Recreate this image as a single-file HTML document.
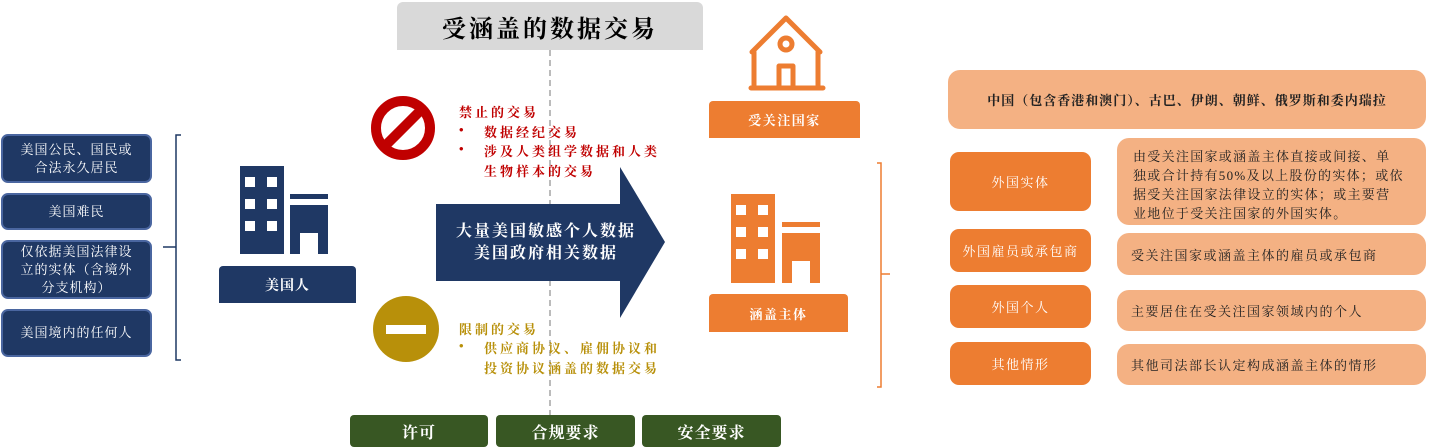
<!DOCTYPE html>
<html><head><meta charset="utf-8"><style>
body{margin:0;width:1430px;height:448px;background:#fff;position:relative;overflow:hidden;font-family:"Liberation Serif","Noto Serif CJK SC",serif}
.a{position:absolute;box-sizing:border-box}
.nv{background:#1f3864;border:2px solid #4a66a0;border-radius:7px;color:#fff;font-size:13px;display:flex;align-items:center;justify-content:center;text-align:center;line-height:18px;letter-spacing:1px}
.c{display:flex;align-items:center;justify-content:center;text-align:center}
.or{background:#ed7d31;color:#fff;font-size:13px;border-radius:9px;letter-spacing:1.5px}
.pe{background:#f4b183;color:#222;font-size:13px;border-radius:12px;letter-spacing:1.5px}
.gr{background:#385723;color:#fff;font-size:16px;font-weight:bold;border-radius:4px;letter-spacing:1px}
.t{position:absolute;font-size:13px;font-weight:bold;letter-spacing:3px;white-space:nowrap}
.r{color:#c00000}.y{color:#b8900a}
</style></head><body>
<div class="a nv" style="left:1px;top:134px;width:151px;height:49px">美国公民、国民或<br>合法永久居民</div>
<div class="a nv" style="left:1px;top:193px;width:151px;height:37px">美国难民</div>
<div class="a nv" style="left:1px;top:240px;width:151px;height:59px">仅依据美国法律设<br>立的实体（含境外<br>分支机构）</div>
<div class="a nv" style="left:1px;top:309px;width:151px;height:48px">美国境内的任何人</div>
<svg class="a" style="left:0;top:0" width="1430" height="448">
<path d="M181 135H176V360H181M176 247H163" fill="none" stroke="#1f3864" stroke-width="1.5"/>
<path d="M877 163H881V387H877M881 274H890" fill="none" stroke="#ed7d31" stroke-width="1.5"/>
<line x1="550" y1="50" x2="550" y2="415" stroke="#bbb" stroke-width="2" stroke-dasharray="6,4"/>
<g fill="#1f3864"><rect x="240" y="166" width="44" height="88"/><rect x="290" y="194" width="38" height="5"/><path d="M290 205H328V254H318V233H300V254H290Z"/></g>
<g fill="#fff"><rect x="245" y="177" width="10" height="10"/><rect x="267" y="177" width="10" height="10"/><rect x="245" y="199" width="10" height="10"/><rect x="267" y="199" width="10" height="10"/><rect x="245" y="221" width="10" height="10"/><rect x="267" y="221" width="10" height="10"/></g>
<g fill="#ed7d31"><rect x="731" y="194" width="44" height="89"/><rect x="782" y="222" width="38" height="5"/><path d="M782 233H820V283H810V261H792V283H782Z"/></g>
<g fill="#fff"><rect x="736" y="205" width="10" height="10"/><rect x="758" y="205" width="10" height="10"/><rect x="736" y="227" width="10" height="10"/><rect x="758" y="227" width="10" height="10"/><rect x="736" y="249" width="10" height="10"/><rect x="758" y="249" width="10" height="10"/></g>
<g fill="none" stroke="#ed7d31" stroke-width="5" stroke-linejoin="round" stroke-linecap="round"><path d="M752 52L786 18L820 52"/><path d="M754 52V88M818 52V88M751 88H823"/><circle cx="786" cy="44" r="6"/><path d="M779 88V66H793V88"/></g>
<circle cx="403" cy="128" r="27" fill="none" stroke="#c00000" stroke-width="10"/>
<line x1="384" y1="147" x2="422" y2="109" stroke="#c00000" stroke-width="10"/>
<circle cx="406" cy="329" r="33" fill="#b8900a"/>
<rect x="386" y="325" width="40" height="9" fill="#fff"/>
<path d="M436 204H620V167L665 242L620 318V281H436Z" fill="#1f3864"/>
</svg>
<div class="a c" style="left:219px;top:266px;width:137px;height:37px;background:#1f3864;color:#fff;font-size:14px;font-weight:bold;border-radius:4px 4px 0 0;letter-spacing:1px">美国人</div>
<div class="a c" style="left:397px;top:2px;width:306px;height:48px;background:#d9d9d9;font-size:24px;font-weight:bold;border-radius:6px 6px 0 0;letter-spacing:3px">受涵盖的数据交易</div>
<div class="t r" style="left:459px;top:102px">禁止的交易</div>
<div class="t r" style="left:459px;top:122px">•</div><div class="t r" style="left:484px;top:122px">数据经纪交易</div>
<div class="t r" style="left:459px;top:141px">•</div><div class="t r" style="left:484px;top:141px">涉及人类组学数据和人类</div>
<div class="t r" style="left:484px;top:161px">生物样本的交易</div>
<div class="t y" style="left:459px;top:319px">限制的交易</div>
<div class="t y" style="left:459px;top:338px">•</div><div class="t y" style="left:484px;top:338px">供应商协议、雇佣协议和</div>
<div class="t y" style="left:484px;top:358px">投资协议涵盖的数据交易</div>
<div class="a c" style="left:436px;top:216px;width:220px;height:54px;color:#fff;font-size:16px;font-weight:bold;line-height:22px;letter-spacing:2px">大量美国敏感个人数据<br>美国政府相关数据</div>
<div class="a c gr" style="left:350px;top:415px;width:138px;height:32px">许可</div>
<div class="a c gr" style="left:496px;top:415px;width:139px;height:32px">合规要求</div>
<div class="a c gr" style="left:642px;top:415px;width:139px;height:32px">安全要求</div>
<div class="a c" style="left:709px;top:101px;width:151px;height:37px;background:#ed7d31;color:#fff;font-size:13px;font-weight:bold;border-radius:4px 4px 0 0;letter-spacing:1.5px">受关注国家</div>
<div class="a c" style="left:709px;top:294px;width:139px;height:38px;background:#ed7d31;color:#fff;font-size:13px;font-weight:bold;border-radius:4px 4px 0 0;letter-spacing:1.5px">涵盖主体</div>
<div class="a c pe" style="left:948px;top:70px;width:478px;height:59px;font-weight:bold;font-size:13px;letter-spacing:1px">中国（包含香港和澳门）、古巴、伊朗、朝鲜、俄罗斯和委内瑞拉</div>
<div class="a c or" style="left:950px;top:152px;width:141px;height:59px">外国实体</div>
<div class="a c or" style="left:950px;top:229px;width:141px;height:43px">外国雇员或承包商</div>
<div class="a c or" style="left:950px;top:285px;width:141px;height:43px">外国个人</div>
<div class="a c or" style="left:950px;top:342px;width:141px;height:43px">其他情形</div>
<div class="a pe" style="left:1117px;top:138px;width:309px;height:87px;padding:9px 0 0 16px;line-height:19px;letter-spacing:1.3px;white-space:nowrap">由受关注国家或涵盖主体直接或间接、单<br>独或合计持有50%及以上股份的实体；或依<br>据受关注国家法律设立的实体；或主要营<br>业地位于受关注国家的外国实体。</div>
<div class="a pe" style="left:1117px;top:233px;width:309px;height:42px;padding:12px 0 0 14px">受关注国家或涵盖主体的雇员或承包商</div>
<div class="a pe" style="left:1117px;top:290px;width:309px;height:41px;padding:11px 0 0 14px">主要居住在受关注国家领域内的个人</div>
<div class="a pe" style="left:1117px;top:344px;width:309px;height:41px;padding:11px 0 0 14px">其他司法部长认定构成涵盖主体的情形</div>
</body></html>
